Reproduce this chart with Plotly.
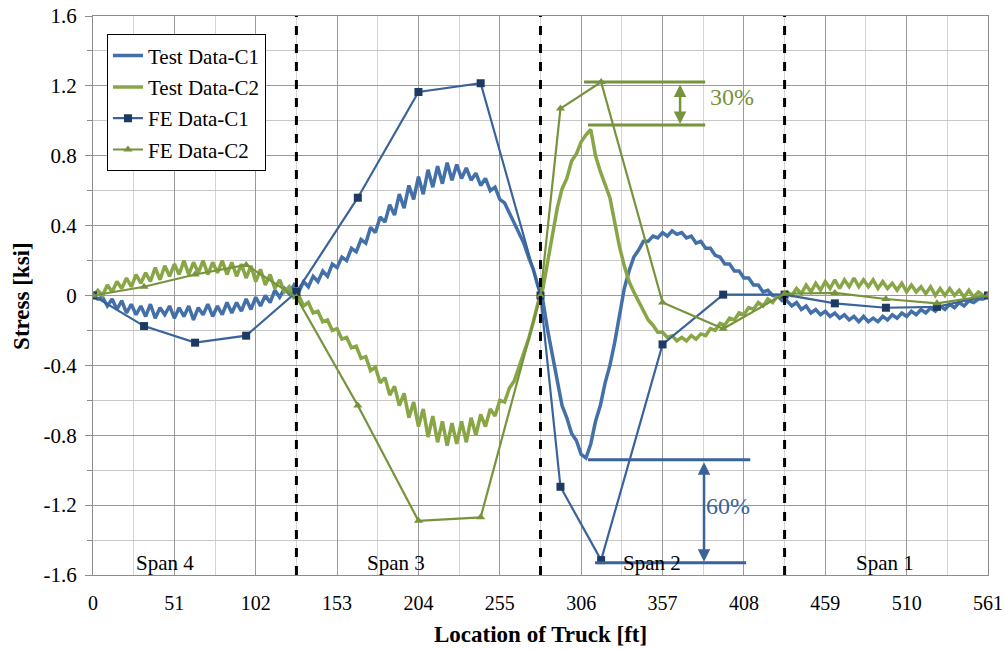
import plotly.graph_objects as go

# ---------------- data ----------------
x_step = 3  # ft between test-data samples
test_c1 = [
    0.0, -0.02, -0.01, -0.06, -0.02, -0.08, -0.03, -0.10, -0.05, -0.11,
    -0.06, -0.12, -0.05, -0.13, -0.07, -0.11, -0.06, -0.13, -0.07, -0.12,
    -0.06, -0.14, -0.07, -0.11, -0.05, -0.12, -0.06, -0.11, -0.04, -0.10,
    -0.04, -0.09, -0.02, -0.08, -0.01, -0.06, 0.0, -0.04, 0.03, -0.01,
    0.04, 0.01, 0.06,
    0.02, 0.08, 0.05, 0.11, 0.08, 0.14, 0.11, 0.18, 0.16, 0.22,
    0.20, 0.27, 0.25, 0.32, 0.30, 0.39, 0.36, 0.45, 0.42, 0.52,
    0.46, 0.58, 0.50, 0.63, 0.55, 0.68, 0.58, 0.72, 0.62, 0.74,
    0.64, 0.76, 0.66, 0.75, 0.67, 0.73, 0.66, 0.70, 0.63, 0.67,
    0.60, 0.62, 0.55, 0.53, 0.47, 0.42, 0.36, 0.30, 0.22, 0.15,
    0.05,
    -0.03, -0.20, -0.34, -0.48, -0.63, -0.70, -0.79, -0.83, -0.91, -0.93,
    -0.85, -0.72, -0.63, -0.50, -0.40, -0.27, -0.10, 0.04, 0.14, 0.22,
    0.26, 0.31, 0.31, 0.34, 0.33, 0.36, 0.34, 0.37, 0.35, 0.36,
    0.33, 0.34, 0.30, 0.31, 0.27, 0.27, 0.23, 0.22, 0.18, 0.18,
    0.14, 0.14, 0.10, 0.10, 0.06, 0.06, 0.02, 0.03, 0.0, 0.0,
    -0.03,
    -0.03, -0.06, -0.04, -0.08, -0.06, -0.10, -0.08, -0.11, -0.09, -0.12,
    -0.10, -0.13, -0.11, -0.14, -0.12, -0.15, -0.12, -0.15, -0.13, -0.15,
    -0.12, -0.14, -0.11, -0.13, -0.10, -0.12, -0.09, -0.11, -0.08, -0.10,
    -0.07, -0.09, -0.06, -0.08, -0.05, -0.07, -0.04, -0.06, -0.03, -0.04,
    -0.02, -0.02, 0.0,
]
test_c2 = [
    0.0, 0.03, 0.0, 0.06, 0.02, 0.08, 0.04, 0.10, 0.05, 0.12,
    0.07, 0.13, 0.08, 0.16, 0.09, 0.17, 0.11, 0.18, 0.12, 0.20,
    0.12, 0.19, 0.13, 0.20, 0.12, 0.19, 0.13, 0.20, 0.12, 0.19,
    0.11, 0.18, 0.10, 0.17, 0.08, 0.15, 0.06, 0.12, 0.04, 0.09,
    0.02, 0.05, -0.01,
    0.0, -0.06, -0.04, -0.10, -0.09, -0.15, -0.14, -0.20, -0.19, -0.25,
    -0.24, -0.30, -0.29, -0.36, -0.35, -0.43, -0.41, -0.50, -0.47, -0.57,
    -0.52, -0.63, -0.56, -0.70, -0.61, -0.75, -0.65, -0.81, -0.69, -0.84,
    -0.72, -0.86, -0.73, -0.85, -0.72, -0.84, -0.70, -0.80, -0.68, -0.75,
    -0.65, -0.69, -0.60, -0.61, -0.53, -0.49, -0.41, -0.34, -0.25, -0.15,
    -0.04,
    0.04, 0.20, 0.36, 0.50, 0.61, 0.67, 0.77, 0.81, 0.88, 0.92,
    0.95, 0.80, 0.71, 0.63, 0.56, 0.42, 0.28, 0.17, 0.08, 0.02,
    -0.03, -0.08, -0.14, -0.17, -0.21, -0.21, -0.24, -0.23, -0.26, -0.24,
    -0.26, -0.23, -0.25, -0.22, -0.23, -0.19, -0.20, -0.16, -0.17, -0.13,
    -0.14, -0.10, -0.11, -0.07, -0.08, -0.04, -0.06, -0.02, -0.04, 0.0,
    -0.01,
    0.02, 0.0, 0.04, 0.01, 0.06, 0.02, 0.07, 0.03, 0.08, 0.04,
    0.09, 0.04, 0.09, 0.05, 0.10, 0.05, 0.09, 0.05, 0.09, 0.04,
    0.08, 0.04, 0.07, 0.03, 0.07, 0.02, 0.06, 0.02, 0.05, 0.01,
    0.05, 0.0, 0.04, 0.0, 0.04, 0.0, 0.03, -0.01, 0.03, -0.01,
    0.02, 0.0, 0.0,
]
test_x = [i * x_step for i in range(len(test_c1))]

fe_c1_x = [0, 32, 64, 96, 127.5, 166, 204, 243, 280.5, 293, 318.5, 357, 395, 433.5, 465, 497, 529, 561]
fe_c1_y = [0, -0.175, -0.27, -0.23, 0.02, 0.56, 1.165, 1.215, 0.0, -1.095, -1.515, -0.28, 0.005, 0.005, -0.045, -0.07, -0.065, 0.0]
fe_c2_x = [0, 32, 64, 96, 127.5, 166, 204, 243, 280.5, 293, 318.5, 357, 395, 433.5, 465, 497, 529, 561]
fe_c2_y = [0, 0.05, 0.12, 0.175, -0.01, -0.63, -1.29, -1.27, 0.0, 1.07, 1.222, -0.04, -0.19, 0.01, 0.015, -0.02, -0.045, 0.0]

span_bounds = [127.5, 280.5, 433.5]
span_labels = ["Span 4", "Span 3", "Span 2", "Span 1"]
span_label_x = [45, 190, 350.5, 496.5]

x_ticks = [0, 51, 102, 153, 204, 255, 306, 357, 408, 459, 510, 561]
y_ticks = [-1.6, -1.2, -0.8, -0.4, 0, 0.4, 0.8, 1.2, 1.6]
y_tick_text = ["-1.6", "-1.2", "-0.8", "-0.4", "0", "0.4", "0.8", "1.2", "1.6"]

# percentage markers: (fe peak, test peak)
c2_fe_peak, c2_test_peak = 1.222, 0.976
c1_fe_peak, c1_test_peak = -1.53, -0.94

# ---------------- styles ----------------
BLUE = "#4370A8"
BLUE_FE = "#3A6399"
NAVY = "#1C3A63"
GREEN = "#88A646"
GREEN_FE = "#77933C"
SERIF = "Liberation Serif"

fig = go.Figure()
fig.add_trace(go.Scatter(x=test_x, y=test_c1, mode="lines", name="Test Data-C1",
                         line=dict(color=BLUE, width=3.5), legendgroup="a"))
fig.add_trace(go.Scatter(x=test_x, y=test_c2, mode="lines", name="Test Data-C2",
                         line=dict(color=GREEN, width=3.5), legendgroup="b"))
fig.add_trace(go.Scatter(x=fe_c1_x, y=fe_c1_y, mode="lines+markers", name="FE Data-C1",
                         line=dict(color=BLUE_FE, width=2.2),
                         marker=dict(symbol="square", size=8, color=NAVY), legendgroup="c"))
fig.add_trace(go.Scatter(x=fe_c2_x, y=fe_c2_y, mode="lines+markers", name="FE Data-C2",
                         line=dict(color=GREEN_FE, width=2.2),
                         marker=dict(symbol="triangle-up", size=8, color=GREEN_FE), legendgroup="d"))

shapes = []
for xb in span_bounds:
    shapes.append(dict(type="line", xref="x", yref="y", x0=xb, x1=xb, y0=-1.6, y1=1.6,
                       line=dict(color="black", width=3, dash="dash")))
# 30% markers (green)
shapes.append(dict(type="line", xref="x", yref="y", x0=307.8, x1=383.7, y0=c2_fe_peak, y1=c2_fe_peak,
                   line=dict(color=GREEN_FE, width=3)))
shapes.append(dict(type="line", xref="x", yref="y", x0=310.3, x1=383.7, y0=c2_test_peak, y1=c2_test_peak,
                   line=dict(color=GREEN_FE, width=3)))
# 60% markers (blue)
shapes.append(dict(type="line", xref="x", yref="y", x0=310.3, x1=412, y0=c1_test_peak, y1=c1_test_peak,
                   line=dict(color=BLUE_FE, width=3)))
shapes.append(dict(type="line", xref="x", yref="y", x0=314.7, x1=409.4, y0=c1_fe_peak, y1=c1_fe_peak,
                   line=dict(color=BLUE_FE, width=3)))

annotations = []
for lbl, lx in zip(span_labels, span_label_x):
    annotations.append(dict(x=lx, y=-1.532, xref="x", yref="y", text=lbl, showarrow=False,
                            font=dict(family=SERIF, size=21, color="black")))
# double-headed arrows
annotations.append(dict(x=368, y=c2_test_peak, ax=368, ay=c2_fe_peak, xref="x", yref="y",
                        axref="x", ayref="y", text="", showarrow=True, arrowhead=2,
                        arrowside="end+start", arrowwidth=2.5, arrowsize=1, arrowcolor=GREEN_FE,
                        standoff=1, startstandoff=1))
annotations.append(dict(x=383, y=c1_fe_peak, ax=383, ay=c1_test_peak, xref="x", yref="y",
                        axref="x", ayref="y", text="", showarrow=True, arrowhead=2,
                        arrowside="end+start", arrowwidth=2.5, arrowsize=1, arrowcolor=BLUE_FE,
                        standoff=1, startstandoff=1))
annotations.append(dict(x=385.5, y=1.136, xref="x", yref="y", text="30%", showarrow=False,
                        xanchor="left", font=dict(family=SERIF, size=24, color=GREEN_FE)))
annotations.append(dict(x=398, y=-1.205, xref="x", yref="y", text="60%", showarrow=False,
                        font=dict(family=SERIF, size=24, color=BLUE_FE)))
# axis titles
annotations.append(dict(x=0.5, y=-0.106, xref="paper", yref="paper", text="<b>Location of Truck [ft]</b>",
                        showarrow=False, xanchor="center", yanchor="middle",
                        font=dict(family=SERIF, size=23, color="black")))
annotations.append(dict(x=-0.08, y=0.5, xref="paper", yref="paper", text="<b>Stress [ksi]</b>",
                        showarrow=False, xanchor="center", yanchor="middle", textangle=-90,
                        font=dict(family=SERIF, size=23, color="black")))

fig.update_layout(
    width=1005, height=650,
    margin=dict(l=93, r=17, t=16, b=75, autoexpand=False),
    paper_bgcolor="white", plot_bgcolor="white",
    font=dict(family=SERIF, size=19, color="black"),
    shapes=shapes, annotations=annotations,
    legend=dict(x=0.0156, y=0.967, xanchor="left", yanchor="top",
                bgcolor="white", bordercolor="black", borderwidth=1,
                font=dict(family=SERIF, size=21, color="black"),
                tracegroupgap=1),
    showlegend=True,
)
fig.update_xaxes(
    range=[0, 561], tickmode="array", tickvals=x_ticks, automargin=False,
    showgrid=True, gridcolor="#9A9A9A", gridwidth=1,
    minor=dict(dtick=25.5, tick0=0, showgrid=True, gridcolor="#D4D4D4", gridwidth=1),
    showline=True, linecolor="#8C8C8C", linewidth=1, mirror=True,
    ticks="", zeroline=False, ticklabelstandoff=10, ticklabeloverflow="allow",
    tickfont=dict(family=SERIF, size=20),
)
fig.update_yaxes(
    range=[-1.6, 1.6], tickmode="array", tickvals=y_ticks, ticktext=y_tick_text, automargin=False,
    showgrid=True, gridcolor="#9A9A9A", gridwidth=1,
    minor=dict(dtick=0.2, tick0=0, showgrid=True, gridcolor="#C8C8C8", gridwidth=1,
               ticks="outside", ticklen=5, tickcolor="#8C8C8C"),
    showline=True, linecolor="#8C8C8C", linewidth=1, mirror=True,
    ticks="outside", ticklen=7, tickcolor="#8C8C8C", zeroline=False,
    ticklabelstandoff=4, ticklabeloverflow="allow",
    tickfont=dict(family=SERIF, size=21),
)

fig.write_html("out.html", config={"displayModeBar": False},
               post_script="document.body.style.margin='0px';document.body.style.overflow='hidden';")
